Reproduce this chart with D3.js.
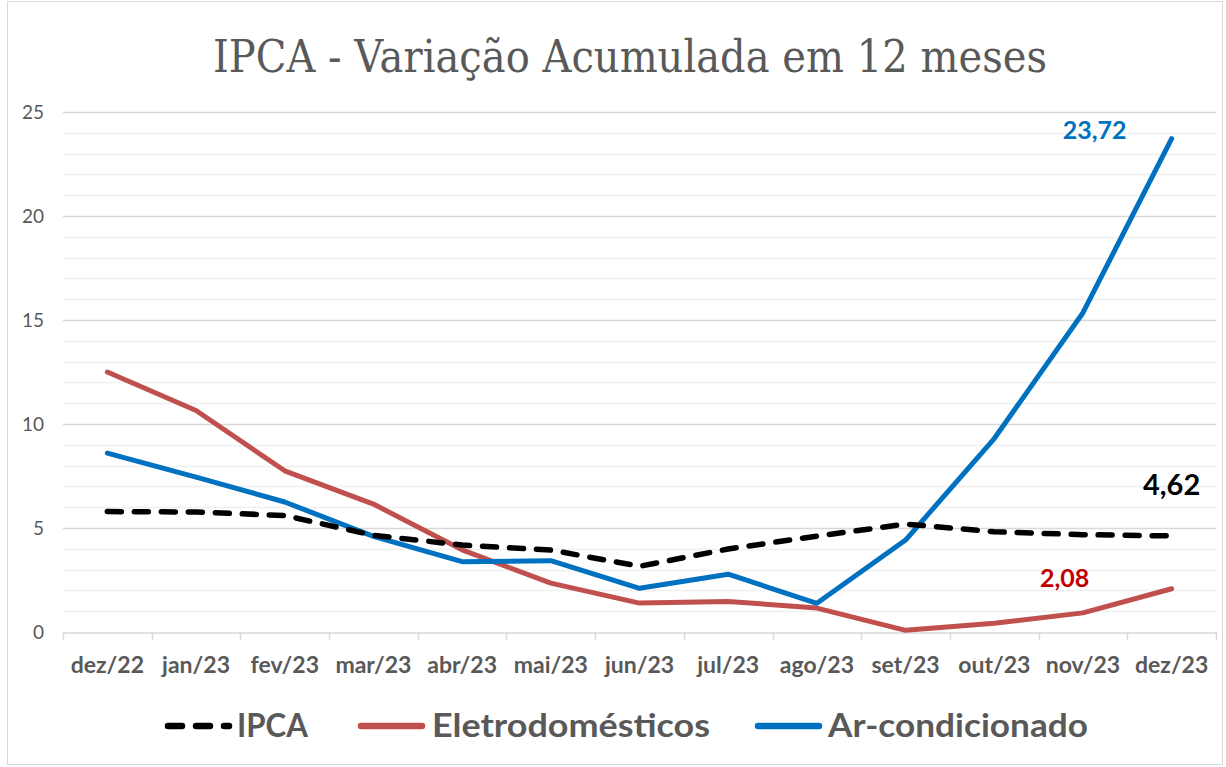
<!DOCTYPE html>
<html>
<head>
<meta charset="utf-8">
<script src="https://cdn.jsdelivr.net/npm/d3@7"></script>
<style>
  html, body { margin: 0; padding: 0; background: #ffffff; }
  svg { display: block; }
</style>
</head>
<body>
<svg id="chart"></svg>
<script>
const months = ['dez/22', 'jan/23', 'fev/23', 'mar/23', 'abr/23', 'mai/23', 'jun/23',
  'jul/23', 'ago/23', 'set/23', 'out/23', 'nov/23', 'dez/23'];

const ipca = [5.79, 5.77, 5.60, 4.65, 4.18, 3.94, 3.16, 3.99, 4.61, 5.19, 4.82, 4.68, 4.62];
const eletro = [12.5, 10.65, 7.75, 6.15, 3.95, 2.35, 1.39, 1.47, 1.15, 0.08, 0.42, 0.92, 2.08];
const arCond = [8.6, 7.45, 6.25, 4.6, 3.38, 3.43, 2.1, 2.78, 1.38, 4.42, 9.3, 15.35, 23.72];

const yTicks = [0, 5, 10, 15, 20, 25];

const series = [
  { name: 'IPCA', values: ipca, color: '#000000', dash: '14,13', label: '4,62', labelColor: '#000000' },
  { name: 'Eletrodomésticos', values: eletro, color: '#C0504D', dash: null, label: '2,08', labelColor: '#C00000' },
  { name: 'Ar-condicionado', values: arCond, color: '#0070C0', dash: null, label: '23,72', labelColor: '#0070C0' }
];

const WIDTH = 1226;
const HEIGHT = 767;
const PLOT = { left: 63, right: 1216, top: 112, bottom: 632 };
const GRAY = '#595959';
const FONT = 'Lato, "Open Sans", sans-serif';

const root = d3.select('#chart')
  .attr('width', WIDTH)
  .attr('height', HEIGHT)
  .attr('viewBox', `0 0 ${WIDTH} ${HEIGHT}`);

root.append('rect')
  .attr('x', 7.5)
  .attr('y', 1.5)
  .attr('width', WIDTH - 11)
  .attr('height', HEIGHT - 4)
  .attr('fill', '#ffffff')
  .attr('stroke', '#d9d9d9')
  .attr('stroke-width', 1);

const x = d3.scaleBand()
  .domain(months)
  .range([PLOT.left, PLOT.right]);

const y = d3.scaleLinear()
  .domain([0, 25])
  .range([PLOT.bottom, PLOT.top]);

// minor gridlines every 1 unit, major every 5
const minor = d3.range(1, 26).filter((v) => v % 5 !== 0);
root.append('g')
  .selectAll('line')
  .data(minor)
  .join('line')
  .attr('x1', PLOT.left)
  .attr('x2', PLOT.right)
  .attr('y1', (d) => Math.round(y(d)) + 0.5)
  .attr('y2', (d) => Math.round(y(d)) + 0.5)
  .attr('stroke', '#f0f0f0')
  .attr('stroke-width', 1.5);

root.append('g')
  .selectAll('line')
  .data(yTicks.filter((v) => v > 0))
  .join('line')
  .attr('x1', PLOT.left)
  .attr('x2', PLOT.right)
  .attr('y1', (d) => Math.round(y(d)) + 0.5)
  .attr('y2', (d) => Math.round(y(d)) + 0.5)
  .attr('stroke', '#d9d9d9')
  .attr('stroke-width', 1.5);

// y axis labels
const yAxis = root.append('g')
  .attr('transform', `translate(${PLOT.left}, 0)`)
  .call(d3.axisLeft(y).tickValues(yTicks).tickSize(0).tickPadding(19));
yAxis.select('.domain').remove();
yAxis.selectAll('text')
  .attr('fill', GRAY)
  .attr('font-size', 19)
  .attr('font-family', FONT);

// x axis
const xAxis = root.append('g')
  .attr('transform', `translate(0, ${Math.round(y(0)) + 0.5})`)
  .call(d3.axisBottom(x).tickSize(0).tickPadding(24));
xAxis.select('.domain')
  .attr('stroke', '#d9d9d9')
  .attr('stroke-width', 1.5);
xAxis.selectAll('text')
  .attr('fill', GRAY)
  .attr('font-size', 23)
  .attr('font-weight', 700)
  .attr('font-family', FONT);

// category boundary ticks
const bounds = months.map((m) => x(m)).concat([PLOT.right]);
root.append('g')
  .selectAll('line')
  .data(bounds)
  .join('line')
  .attr('x1', (d) => Math.round(d) + 0.5)
  .attr('x2', (d) => Math.round(d) + 0.5)
  .attr('y1', Math.round(y(0)))
  .attr('y2', Math.round(y(0)) + 8)
  .attr('stroke', '#d9d9d9')
  .attr('stroke-width', 1.5);

const line = d3.line()
  .x((d, i) => x(months[i]) + x.bandwidth() / 2)
  .y((d) => y(d));

// draw red, then blue, then dashed IPCA on top
[series[1], series[2], series[0]].forEach((s) => {
  root.append('path')
    .datum(s.values)
    .attr('d', line)
    .attr('fill', 'none')
    .attr('stroke', s.color)
    .attr('stroke-width', s.dash ? 5.5 : 5)
    .attr('stroke-linecap', 'round')
    .attr('stroke-linejoin', 'round')
    .attr('stroke-dasharray', s.dash);
});

// end value labels
const lastX = x(months[months.length - 1]) + x.bandwidth() / 2;
const labelPos = {
  'Ar-condicionado': { dx: -77, y: 139, size: 25 },
  IPCA: { dx: 0, y: 495, size: 29 },
  'Eletrodomésticos': { dx: -107, y: 587, size: 25 }
};
series.forEach((s) => {
  const pos = labelPos[s.name];
  root.append('text')
    .attr('x', lastX + pos.dx)
    .attr('y', pos.y)
    .attr('text-anchor', 'middle')
    .attr('fill', s.labelColor)
    .attr('font-size', pos.size)
    .attr('font-weight', 700)
    .attr('font-family', FONT)
    .text(s.label);
});

// title
root.append('text')
  .attr('x', 630)
  .attr('y', 72)
  .attr('text-anchor', 'middle')
  .attr('fill', GRAY)
  .attr('font-size', 44)
  .attr('font-family', '"DejaVu Serif", "Liberation Serif", serif')
  .attr('textLength', 834)
  .attr('lengthAdjust', 'spacingAndGlyphs')
  .text('IPCA - Variação Acumulada em 12 meses');

// legend
const legendItems = [
  { s: series[0], x1: 168, x2: 229, tx: 237, tw: 71 },
  { s: series[1], x1: 361, x2: 422, tx: 432, tw: 278 },
  { s: series[2], x1: 758, x2: 819, tx: 828, tw: 260 }
];
const legendY = 726;
legendItems.forEach((item) => {
  root.append('line')
    .attr('x1', item.x1)
    .attr('x2', item.x2)
    .attr('y1', legendY)
    .attr('y2', legendY)
    .attr('stroke', item.s.color)
    .attr('stroke-width', 6.5)
    .attr('stroke-linecap', 'round')
    .attr('stroke-dasharray', item.s.dash ? '14,14' : null);

  root.append('text')
    .attr('x', item.tx)
    .attr('y', 737)
    .attr('fill', GRAY)
    .attr('font-size', 33)
    .attr('font-weight', 700)
    .attr('font-family', FONT)
    .attr('textLength', item.tw)
    .attr('lengthAdjust', 'spacingAndGlyphs')
    .text(item.s.name);
});
</script>
</body>
</html>
